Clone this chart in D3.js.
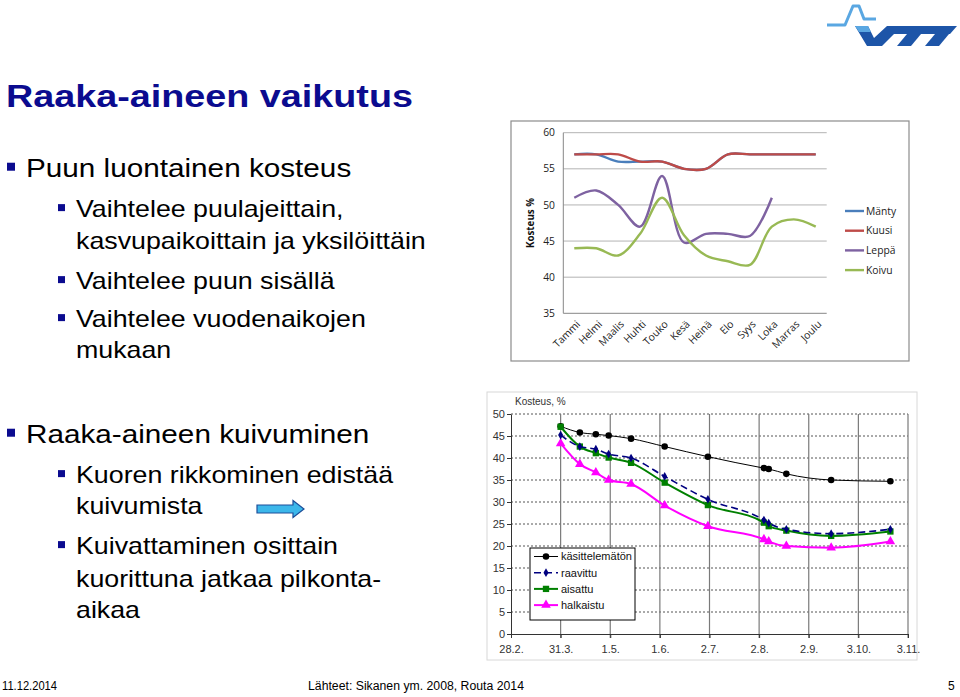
<!DOCTYPE html>
<html><head><meta charset="utf-8">
<script src="https://cdn.jsdelivr.net/npm/d3@7/dist/d3.min.js"></script>
<style>body{margin:0;background:#fff}svg{display:block}</style>
</head><body>
<svg id="s" width="960" height="697"></svg>
<script>
// ---------- Chart 1 data (Kosteus % by month) ----------
const months = ["Tammi","Helmi","Maalis","Huhti","Touko","Kesä","Heinä","Elo","Syys","Loka","Marras","Joulu"];
const manty = [57,57,56,56,56,55,55,57,57,57,57,57];
const kuusi = [57,57,57,56,56,55,55,57,57,57,57,57];
const leppa = [51,52,50,47,54,44.8,46,46,45.7,51,null,null];
const koivu = [44,44,43,46,51,45.8,43,42.2,41.7,47,48,47];
const series1Names = ["Mänty","Kuusi","Leppä","Koivu"];
const y1Ticks = [35,40,45,50,55,60];

// ---------- Chart 2 data (Kosteus, % over time) ----------
const sampleDates = ["2007-03-31","2007-04-12","2007-04-22","2007-04-30","2007-05-14","2007-06-04","2007-07-01","2007-08-05","2007-08-08","2007-08-19","2007-09-16","2007-10-23"];
const kasittelematon = [47.2,45.8,45.4,45.1,44.4,42.6,40.3,37.7,37.5,36.4,35.0,34.7];
const raavittu = [45.2,42.6,42.0,40.9,40.0,35.8,30.6,25.9,25.2,23.8,22.8,23.8];
const aisattu = [47.1,42.6,41.1,40.1,38.9,34.4,29.3,25.3,24.5,23.5,22.3,23.3];
const halkaistu = [43.3,38.6,36.7,35.0,34.1,29.2,24.5,21.5,21.0,20.0,19.6,21.0];
const series2Names = ["käsittelemätön","raavittu","aisattu","halkaistu"];
const x2TickDates = ["2007-02-28","2007-03-31","2007-05-01","2007-06-01","2007-07-02","2007-08-02","2007-09-02","2007-10-03","2007-11-03"];
const x2TickLabels = ["28.2.","31.3.","1.5.","1.6.","2.7.","2.8.","2.9.","3.10.","3.11."];
const y2Ticks = [0,5,10,15,20,25,30,35,40,45,50];

// ---------- Slide text ----------
const title = "Raaka-aineen vaikutus";
const bullets = [
  {lvl:0, lines:["Puun luontainen kosteus"], y:[177]},
  {lvl:1, lines:["Vaihtelee puulajeittain,","kasvupaikoittain ja yksilöittäin"], y:[217,249]},
  {lvl:1, lines:["Vaihtelee puun sisällä"], y:[289]},
  {lvl:1, lines:["Vaihtelee vuodenaikojen","mukaan"], y:[327,358]},
  {lvl:0, lines:["Raaka-aineen kuivuminen"], y:[443]},
  {lvl:1, lines:["Kuoren rikkominen edistää","kuivumista"], y:[483,514]},
  {lvl:1, lines:["Kuivattaminen osittain","kuorittuna jatkaa pilkonta-","aikaa"], y:[554,587,618]}
];

const svg = d3.select("#s");
const FONT = "'Liberation Sans', Arial, Helvetica, sans-serif";
const SX = 1.165;

// title
svg.append("text").attr("transform","translate(6,107) scale(1.18,1)")
  .attr("font-family",FONT).attr("font-weight","bold").attr("font-size",32)
  .attr("fill","#0b0b8f").text(title);

// bullets
bullets.forEach(b=>{
  const tx = b.lvl===0?26:76, fs = b.lvl===0?25.5:23;
  const bs = b.lvl===0?8:7, bx = b.lvl===0?7:58;
  svg.append("rect").attr("x",bx).attr("y",b.y[0]-fs*0.56).attr("width",bs).attr("height",bs).attr("fill","#0b0b8f");
  b.lines.forEach((l,i)=>{
    svg.append("text").attr("transform",`translate(${tx},${b.y[i]}) scale(${SX},1)`)
      .attr("font-family",FONT).attr("font-size",fs).attr("fill","#000").text(l);
  });
});

// arrow
svg.append("polygon")
  .attr("points","257,505 293,505 293,500.5 304,509 293,517.5 293,513 257,513")
  .attr("fill","#3cb7ea").attr("stroke","#1d4f9a").attr("stroke-width",1.2);

// footer
svg.append("text").attr("x",2).attr("y",690).attr("font-family",FONT).attr("font-size",12).attr("textLength",55).attr("lengthAdjust","spacingAndGlyphs").text("11.12.2014");
svg.append("text").attr("x",308).attr("y",690).attr("font-family",FONT).attr("font-size",12).attr("textLength",216).attr("lengthAdjust","spacingAndGlyphs").text("Lähteet: Sikanen ym. 2008, Routa 2014");
svg.append("text").attr("x",948).attr("y",690).attr("font-family",FONT).attr("font-size",12).text("5");

// VTT logo
const logo = svg.append("g");
const LB = "#5aa7e2", DB = "#1d55a8";
logo.append("polyline").attr("points","827,25 845,25 853,6 859,6 864,19 876,19")
  .attr("fill","none").attr("stroke",LB).attr("stroke-width",3).attr("stroke-linejoin","round");
logo.append("polygon").attr("points","855,26 868,26 874,38 887,26 902,26 882,46 867,46").attr("fill",DB);
logo.append("polygon").attr("points","855,26 868,26 871,32 859,32").attr("fill",LB);
logo.append("polygon").attr("points","898,26 933,26 926,34 891,34").attr("fill",DB);
logo.append("polygon").attr("points","907,34 921,34 911,46 897,46").attr("fill",DB);
logo.append("polygon").attr("points","928,26 957,26 950,34 921,34").attr("fill",DB);
logo.append("polygon").attr("points","935,34 949,34 939,46 925,46").attr("fill",DB);

// ================= Chart 1 =================
const c1 = svg.append("g");
c1.append("rect").attr("x",511).attr("y",121).attr("width",398).attr("height",240)
  .attr("fill","#fff").attr("stroke","#8c8c8c").attr("stroke-width",1.2);
const x1 = d3.scalePoint().domain(months).range([563.3,826.7]).padding(0.5);
const y1 = d3.scaleLinear().domain([35,60]).range([313.3,132.7]);
const F1 = "'Open Sans','Noto Sans',sans-serif";
c1.append("g").selectAll("line").data(y1Ticks.filter(d=>d>35)).join("line")
  .attr("x1",563.3).attr("x2",826.7).attr("y1",d=>y1(d)).attr("y2",d=>y1(d))
  .attr("stroke","#b3b3b3").attr("stroke-width",1);
c1.append("line").attr("x1",563.3).attr("x2",826.7).attr("y1",y1(35)).attr("y2",y1(35)).attr("stroke","#868686");
c1.append("line").attr("x1",563.3).attr("x2",563.3).attr("y1",y1(35)).attr("y2",y1(60)).attr("stroke","#868686");
c1.append("g").selectAll("text").data(y1Ticks).join("text")
  .attr("x",555).attr("y",d=>y1(d)).attr("dy","0.35em").attr("text-anchor","end")
  .attr("font-family",F1).attr("font-size",10.3).attr("fill","#222").text(d=>d);
c1.append("g").selectAll("text").data(months).join("text")
  .attr("transform",d=>`translate(${x1(d)+4},${y1(35)+9}) rotate(-45)`)
  .attr("text-anchor","end").attr("dy","0.35em")
  .attr("font-family",F1).attr("font-size",10.3).attr("fill","#222").text(d=>d);
c1.append("text").attr("transform",`translate(534,${(y1(35)+y1(60))/2}) rotate(-90)`)
  .attr("text-anchor","middle").attr("font-family",F1).attr("font-weight","bold").attr("font-size",9.8).attr("fill","#111").text("Kosteus %");
const cols1 = ["#4a7ebb","#be4b48","#7e62a1","#98b954"];
const data1 = [manty,kuusi,leppa,koivu];
const line1 = d3.line().defined(d=>d.v!=null).x(d=>x1(d.m)).y(d=>y1(d.v)).curve(d3.curveCatmullRom.alpha(0.5));
data1.forEach((arr,i)=>{
  c1.append("path").datum(arr.map((v,j)=>({m:months[j],v})))
    .attr("d",line1).attr("fill","none").attr("stroke",cols1[i]).attr("stroke-width",2.4);
});
series1Names.forEach((n,i)=>{
  const yy = 211 + i*19.7;
  c1.append("line").attr("x1",845).attr("x2",864).attr("y1",yy).attr("y2",yy).attr("stroke",cols1[i]).attr("stroke-width",2.4);
  c1.append("text").attr("x",866).attr("y",yy).attr("dy","0.35em").attr("font-family",F1).attr("font-size",10.3).attr("fill","#222").text(n);
});

// ================= Chart 2 =================
const c2 = svg.append("g");
c2.append("rect").attr("x",487).attr("y",392).attr("width",430).attr("height",268).attr("fill","none").attr("stroke","#d8d8d8");
const parse = d3.utcParse("%Y-%m-%d");
const x2 = d3.scaleUtc().domain([parse(x2TickDates[0]),parse(x2TickDates[8])]).range([511,908]);
const y2 = d3.scaleLinear().domain([0,50]).range([634,414]);
c2.append("g").selectAll("line").data(y2Ticks.filter(d=>d>0)).join("line")
  .attr("x1",511).attr("x2",908).attr("y1",d=>y2(d)).attr("y2",d=>y2(d))
  .attr("stroke","#555").attr("stroke-width",1).attr("stroke-dasharray","2,2");
c2.append("g").selectAll("line").data(x2TickDates.slice(1)).join("line")
  .attr("x1",d=>x2(parse(d))).attr("x2",d=>x2(parse(d))).attr("y1",y2(50)).attr("y2",y2(0)+4)
  .attr("stroke","#7a7a7a").attr("stroke-width",1.2);
const yAx = c2.append("g").attr("transform","translate(511,0)")
  .call(d3.axisLeft(y2).tickValues(y2Ticks).tickSize(4).tickSizeOuter(0));
const xAx = c2.append("g").attr("transform",`translate(0,${y2(0)})`)
  .call(d3.axisBottom(x2).tickValues(x2TickDates.map(parse)).tickFormat((d,i)=>x2TickLabels[i]).tickSize(4).tickSizeOuter(0));
[yAx,xAx].forEach(a=>{
  a.select(".domain").attr("stroke","#333");
  a.selectAll(".tick line").attr("stroke","#333");
  a.selectAll("text").attr("font-family",FONT).attr("font-size",11).attr("fill","#333");
});
yAx.selectAll("text").attr("x",-6);
xAx.selectAll("text").attr("dy","1.05em");
c2.append("text").attr("x",515).attr("y",405).attr("font-family",FONT).attr("font-size",10).attr("fill","#333").text("Kosteus, %");

const data2 = [kasittelematon,raavittu,aisattu,halkaistu];
const cols2 = ["#000000","#000080","#008000","#ff00ff"];
const widths2 = [1,1.6,2,2];
const dash2 = [null,"7,4",null,null];
const line2 = d3.line().x(d=>x2(d.t)).y(d=>y2(d.v)).curve(d3.curveMonotoneX);
const sym2 = [d3.symbolCircle,d3.symbolDiamond,d3.symbolSquare,d3.symbolTriangle];
const symSize2 = [34,22,40,40];
[0,3,2,1].forEach(i=>{
  const pts = data2[i].map((v,j)=>({t:parse(sampleDates[j]),v}));
  c2.append("path").datum(pts).attr("d",line2).attr("fill","none")
    .attr("stroke",cols2[i]).attr("stroke-width",widths2[i]).attr("stroke-dasharray",dash2[i]);
  c2.append("g").selectAll("path").data(pts).join("path")
    .attr("transform",d=>`translate(${x2(d.t)},${y2(d.v)})`)
    .attr("d",d3.symbol(sym2[i],symSize2[i])).attr("fill",cols2[i]);
});
c2.append("rect").attr("x",530).attr("y",548).attr("width",105).attr("height",72).attr("fill","#fff").attr("stroke","#000").attr("stroke-width",1);
series2Names.forEach((n,i)=>{
  const yy = 556.5 + i*16.2;
  c2.append("line").attr("x1",534).attr("x2",558).attr("y1",yy).attr("y2",yy)
    .attr("stroke",cols2[i]).attr("stroke-width",widths2[i]).attr("stroke-dasharray",dash2[i]);
  c2.append("path").attr("transform",`translate(546,${yy})`).attr("d",d3.symbol(sym2[i],symSize2[i])).attr("fill",cols2[i]);
  c2.append("text").attr("x",561).attr("y",yy).attr("dy","0.36em").attr("font-family",FONT).attr("font-size",11).attr("fill","#111").text(n);
});
</script>
</body></html>
